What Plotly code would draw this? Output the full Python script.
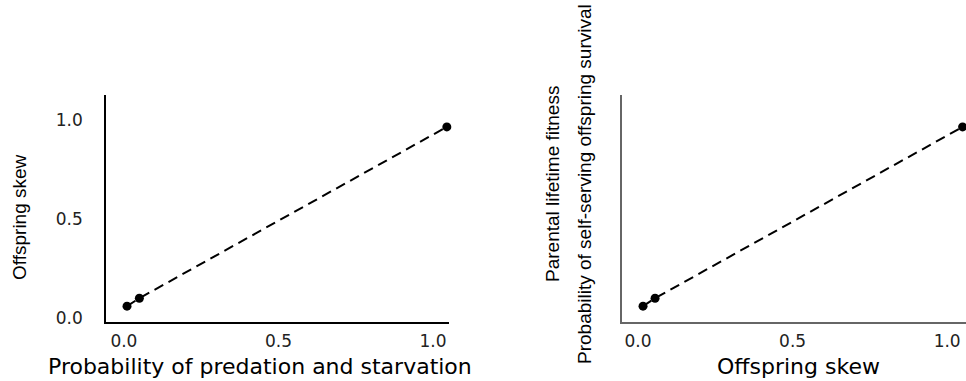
import plotly.graph_objects as go

# Panel A: probability of predation and starvation vs offspring skew
pred_starv_prob = [0.010, 0.050, 1.045]
offspring_skew_a = [0.060, 0.100, 0.965]

# Panel B: offspring skew vs parental lifetime fitness
offspring_skew_b = [0.016, 0.055, 1.050]
parental_fitness = [0.060, 0.100, 0.965]

tick_vals = [0.0, 0.5, 1.0]
tick_text = ["0.0", "0.5", "1.0"]

W, H = 966, 381
WIDE = "DejaVu Sans, Verdana, sans-serif"
ARIAL = "Liberation Sans, Arial, sans-serif"

fig = go.Figure()
line_style = dict(color="black", width=2, dash="10px,6px")
marker_style = dict(color="black", size=9)

fig.add_trace(go.Scatter(x=pred_starv_prob, y=offspring_skew_a, mode="lines+markers",
                         line=line_style, marker=marker_style, xaxis="x", yaxis="y",
                         showlegend=False, cliponaxis=False))
fig.add_trace(go.Scatter(x=offspring_skew_b, y=parental_fitness, mode="lines+markers",
                         line=line_style, marker=marker_style, xaxis="x2", yaxis="y2",
                         showlegend=False, cliponaxis=False))

def px(x):
    return x / W

common = dict(showgrid=False, zeroline=False, ticks="",
              tickfont=dict(family=WIDE, size=17, color="#222"),
              showline=True, linewidth=1.5)

fig.update_layout(
    width=W, height=H,
    margin=dict(l=0, r=0, t=95, b=59),
    plot_bgcolor="white", paper_bgcolor="white",
    xaxis=dict(domain=[px(106), px(449)], range=[-0.058, 1.052], tickvals=tick_vals, ticktext=tick_text,
               linecolor="black", anchor="y", ticklabelstandoff=3, **common),
    yaxis=dict(domain=[0, 1], range=[-0.02, 1.126], tickvals=tick_vals, ticktext=tick_text,
               linecolor="black", anchor="x", ticklabelstandoff=18, **common),
    xaxis2=dict(domain=[px(622), 1.0], range=[-0.052, 1.061], tickvals=tick_vals, ticktext=tick_text,
                linecolor="#666", anchor="y2", ticklabelstandoff=3, **common),
    yaxis2=dict(domain=[0, 1], range=[-0.02, 1.126], tickvals=tick_vals, showticklabels=False,
                linecolor="#666", anchor="x2", **common),
)

def ann_px(text, xpix, ypix, size, family, angle=0):
    # paper y: 0 at bottom of plot area (pixel 322), 1 at top (pixel 95)
    ypaper = (322 - ypix) / (322 - 95)
    fig.add_annotation(text=text, x=xpix / W, y=ypaper, xref="paper", yref="paper",
                       xanchor="center", yanchor="middle", showarrow=False, textangle=angle,
                       font=dict(family=family, size=size, color="black"))

ann_px("Probability of predation and starvation", 260, 366, 22, WIDE)
ann_px("Offspring skew", 798, 366, 22, WIDE)
ann_px("Offspring skew", 19, 217, 19, ARIAL, -90)
ann_px("Parental lifetime fitness", 552, 184, 19, ARIAL, -90)
ann_px("Probability of self-serving offspring survival", 584, 184, 19, ARIAL, -90)

fig.write_html("out.html")
